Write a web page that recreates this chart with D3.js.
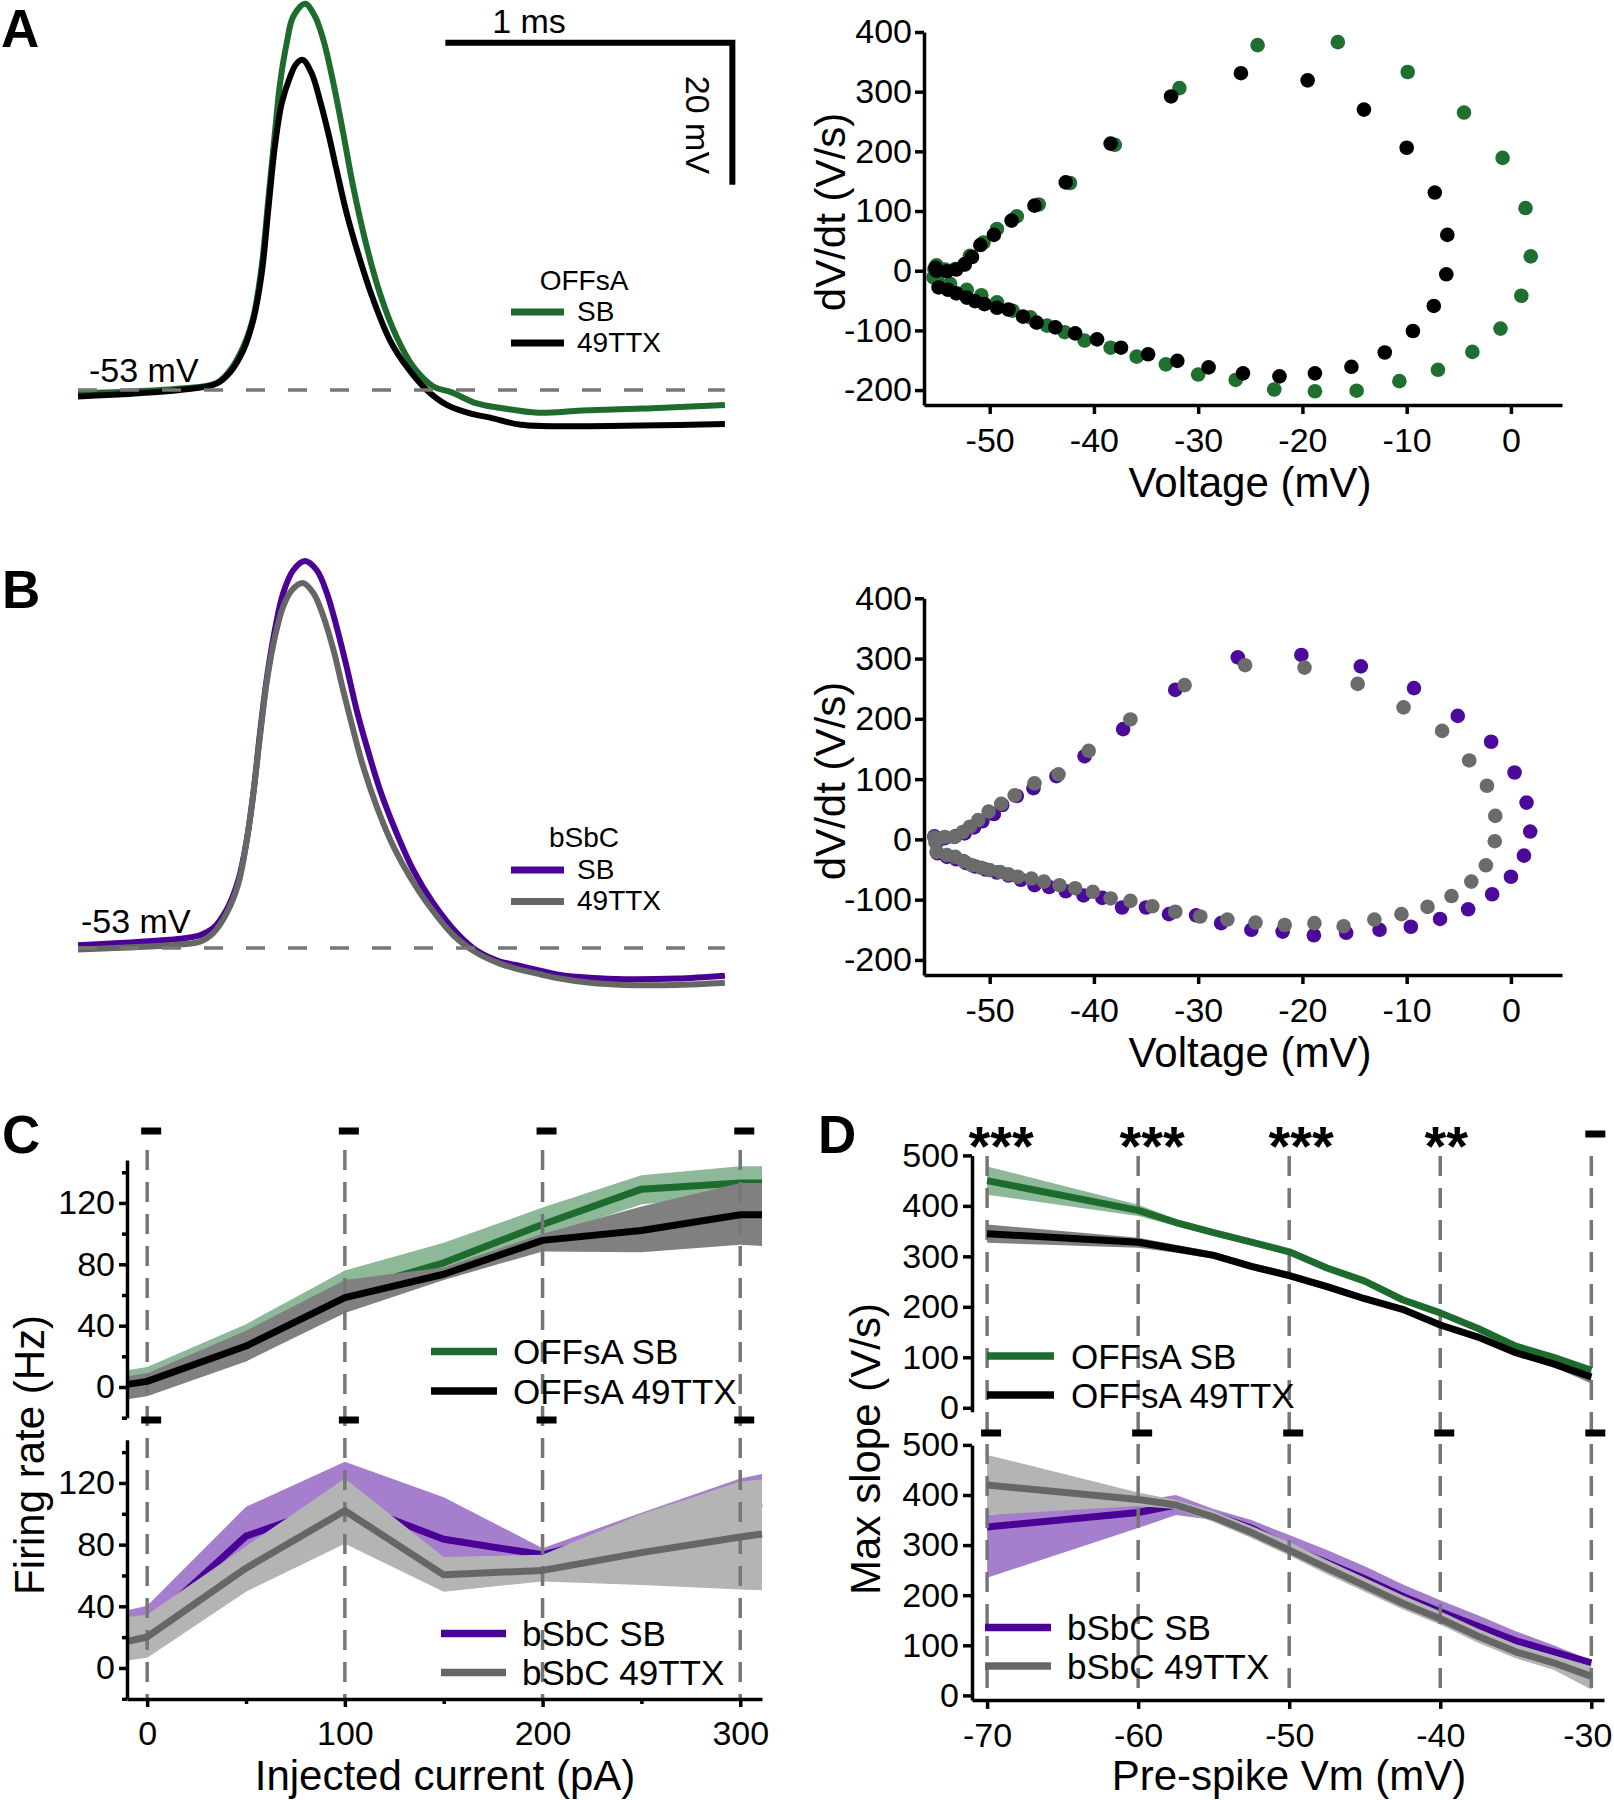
<!DOCTYPE html>
<html>
<head>
<meta charset="utf-8">
<script src="https://cdn.jsdelivr.net/npm/d3@7/dist/d3.min.js"></script>
<style>html,body{margin:0;padding:0;background:#fff;}</style>
</head>
<body>
<script>
// ================= DATA =================
// Panel A/B: averaged action potentials, [time (ms), Vm (mV)]
const apOFFsA_SB = [[0.00,-53.5],[0.355,-52.8],[0.483,-52.0],[0.530,-50.2],[0.576,-46.9],[0.611,-42.7],[0.640,-35.6],[0.663,-26.2],[0.686,-16.8],[0.704,-9.8],[0.727,-4.2],[0.750,-0.4],[0.791,1.4],[0.826,-0.4],[0.855,-3.7],[0.890,-9.8],[0.924,-16.8],[0.959,-24.4],[1.006,-32.8],[1.052,-39.4],[1.110,-45.5],[1.168,-49.7],[1.238,-52.5],[1.30,-53.3],[1.39,-54.9],[1.483,-55.6],[1.603,-56.2],[1.756,-55.9],[1.983,-55.6],[2.254,-55.1]];
const apOFFsA_49TTX = [[0.00,-53.9],[0.355,-53.0],[0.483,-52.1],[0.530,-50.5],[0.576,-47.4],[0.611,-43.1],[0.640,-36.6],[0.663,-27.6],[0.686,-18.7],[0.710,-12.6],[0.739,-8.9],[0.760,-7.1],[0.783,-6.5],[0.814,-8.4],[0.843,-12.2],[0.872,-16.8],[0.901,-22.0],[0.936,-28.1],[0.983,-34.7],[1.029,-40.3],[1.087,-46.0],[1.145,-49.7],[1.215,-53.0],[1.285,-55.1],[1.366,-56.3],[1.436,-56.9],[1.544,-57.9],[1.756,-58.1],[2.254,-57.8]];
const apBSbC_SB = [[0.00,-52.6],[0.355,-51.7],[0.425,-51.2],[0.471,-50.2],[0.518,-47.6],[0.559,-43.4],[0.588,-37.8],[0.611,-31.2],[0.634,-22.8],[0.657,-15.3],[0.686,-8.2],[0.715,-3.0],[0.750,0.2],[0.791,1.5],[0.832,0.2],[0.867,-3.0],[0.901,-7.75],[0.936,-13.4],[0.971,-19.5],[1.006,-24.6],[1.052,-30.7],[1.110,-36.8],[1.168,-42.0],[1.238,-46.7],[1.320,-50.9],[1.39,-53.4],[1.470,-54.9],[1.526,-55.4],[1.610,-56.2],[1.679,-56.8],[1.784,-57.2],[1.906,-57.4],[2.087,-57.3],[2.254,-56.9]];
const apBSbC_49TTX = [[0.00,-53.2],[0.355,-52.5],[0.425,-52.1],[0.471,-50.9],[0.518,-48.1],[0.559,-43.9],[0.588,-37.8],[0.611,-31.2],[0.634,-23.2],[0.657,-15.7],[0.686,-9.2],[0.715,-4.9],[0.745,-2.6],[0.783,-1.6],[0.820,-3.0],[0.855,-6.3],[0.890,-11.0],[0.924,-16.7],[0.959,-22.3],[0.994,-27.5],[1.041,-33.1],[1.099,-38.7],[1.157,-43.0],[1.226,-47.2],[1.308,-51.2],[1.39,-53.7],[1.470,-55.2],[1.526,-55.9],[1.610,-56.7],[1.679,-57.3],[1.784,-57.9],[1.906,-58.2],[2.087,-58.2],[2.254,-57.9]];
const restingLabel = "-53 mV";
const restingVm = -53;

// Phase plots: [Vm (mV), dV/dt (V/s)]
const phaseOFFsA_SB = [[-55.4,-11],[-55.3,3],[-55.1,9],[-54.3,2],[-53.3,3],[-52.4,10],[-51.9,25],[-50.6,47],[-49.3,70],[-47.4,91],[-45.3,111],[-42.3,147],[-38.0,211],[-31.8,306],[-24.3,378],[-16.6,383],[-9.9,333],[-4.5,265],[-0.8,189],[1.4,105],[1.9,24],[1.0,-42],[-1.0,-97],[-3.7,-136],[-7.0,-166],[-10.7,-185],[-14.8,-201],[-18.8,-202],[-22.7,-199],[-26.4,-183],[-30.0,-174],[-33.1,-157],[-35.9,-144],[-38.4,-129],[-40.9,-117],[-42.8,-103],[-44.5,-92],[-46.1,-78],[-47.8,-67],[-49.3,-53],[-50.8,-41],[-52.2,-32],[-53.8,-22],[-55.0,-16]];
const phaseOFFsA_49TTX = [[-55.2,5],[-55.1,0],[-54.1,-1],[-53.2,2],[-52.4,11],[-51.7,23],[-50.9,43],[-49.6,60],[-47.9,84],[-45.7,109],[-42.7,148],[-38.4,213],[-32.6,292],[-25.9,331],[-19.5,319],[-14.1,270],[-10.0,206],[-7.3,131],[-6.1,60],[-6.2,-6],[-7.4,-59],[-9.4,-101],[-12.1,-137],[-15.3,-161],[-18.8,-172],[-22.2,-177],[-25.7,-172],[-29.0,-162],[-32.0,-151],[-34.8,-140],[-37.4,-129],[-39.7,-115],[-41.8,-105],[-43.7,-95],[-45.5,-87],[-46.8,-77],[-48.2,-65],[-49.3,-62],[-50.5,-56],[-51.4,-51],[-52.2,-45],[-53.2,-38],[-54.0,-32],[-54.9,-28]];
const phaseBSbC_SB = [[-55.3,5],[-55.0,-3],[-54.3,2],[-53.3,5],[-52.4,10],[-51.5,20],[-50.7,30],[-49.6,42],[-48.8,57],[-47.4,72],[-45.8,85],[-43.6,105],[-40.9,138],[-37.2,183],[-32.2,248],[-26.2,302],[-20.1,306],[-14.4,287],[-9.3,251],[-5.1,205],[-1.9,162],[0.35,111],[1.5,61],[1.85,13],[1.25,-27],[0.0,-62],[-1.8,-91],[-4.1,-116],[-6.8,-132],[-9.6,-145],[-12.6,-150],[-15.8,-155],[-18.9,-159],[-21.9,-153],[-24.9,-150],[-27.8,-139],[-30.2,-126],[-32.8,-124],[-35.0,-113],[-37.3,-113],[-39.2,-97],[-41.0,-93],[-42.7,-86],[-44.3,-79],[-45.7,-76],[-47.0,-67],[-48.2,-60],[-49.3,-55],[-50.4,-50],[-51.4,-45],[-52.3,-39],[-53.2,-33],[-54.1,-29],[-55.0,-23]];
const phaseBSbC_49TTX = [[-55.3,3],[-55.2,-5],[-54.3,4],[-53.4,4],[-52.6,12],[-51.9,21],[-51.1,32],[-50.1,46],[-48.9,59],[-47.6,73],[-45.7,93],[-43.4,108],[-40.5,147],[-36.5,199],[-31.3,256],[-25.5,289],[-19.8,285],[-14.7,258],[-10.3,219],[-6.6,180],[-4.0,131],[-2.3,89],[-1.5,39],[-1.55,-3],[-2.4,-43],[-3.8,-70],[-5.7,-94],[-8.0,-112],[-10.5,-124],[-13.1,-133],[-16.05,-144],[-18.85,-139],[-21.7,-142],[-24.5,-138],[-27.2,-133],[-29.8,-128],[-32.2,-120],[-34.4,-111],[-36.5,-102],[-38.4,-98],[-40.1,-87],[-41.8,-81],[-43.3,-76],[-44.8,-70],[-46.0,-65],[-47.3,-62],[-48.2,-58],[-49.0,-54],[-50.0,-51],[-50.8,-47],[-51.7,-43],[-52.5,-36],[-53.3,-29],[-54.1,-26],[-55.1,-21]];
const phaseTicksX = [-50,-40,-30,-20,-10,0];
const phaseTicksY = [-200,-100,0,100,200,300,400];

// Panel C: firing rate (Hz) vs injected current (pA)
const currentSteps = [-10,0,50,100,150,200,250,300,311];
const frOFFsA_SB = [2,4,28,62,81,106,129,133,133];
const frOFFsA_SB_hi = [11,13,41,76,94,117,138,144,144];
const frOFFsA_SB_lo = [-2,-3,20,55,72,98,119,126,126];
const frOFFsA_TTX = [1.7,3.7,26.7,58.3,73.5,95.6,102,112.3,112.3];
const frOFFsA_TTX_hi = [7,9,36.7,69.8,78,100,117.7,133,133];
const frOFFsA_TTX_lo = [-8,-6,16.7,48.2,69.8,88.4,87.9,92.7,92];
const frBSbC_SB = [25,27,85.5,108,83.5,73.4,90,105,107];
const frBSbC_SB_hi = [37.4,40.3,104.5,133.8,110.8,77.7,100.7,122.9,125.8];
const frBSbC_SB_lo = [20,22,65,85,72,70,70,85,87];
const frBSbC_TTX = [17.3,20.1,64.7,102,60.4,63.3,74.8,84.9,86.9];
const frBSbC_TTX_hi = [33,34.5,79,122.9,72,73.4,99.9,120.9,122.3];
const frBSbC_TTX_lo = [4.9,6.6,49.5,80.6,49.5,56.1,53.8,50.9,50.4];
const cTicksX = [0,100,200,300];
const cMinorX = [50,150,250];
const cTicksY = [0,40,80,120];
const cMinorY = [-20,20,60,100,140];
const sigC_top = ["–","–","–","–"];
const sigC_bot = ["–","–","–","–"];

// Panel D: max slope (V/s) vs pre-spike Vm (mV)
const preSpikeVm = [-70,-60,-57.5,-55,-52.5,-50,-47.5,-45,-42.5,-40,-37.5,-35,-32.5,-30];
const msOFFsA_SB = [450,391,367,347,328,309,277,251,214,188,157,122,100,74];
const msOFFsA_SB_hi = [478,402,374,353,334,314,283,257,220,193,162,127,105,79];
const msOFFsA_SB_lo = [422,380,360,341,322,303,271,245,208,183,152,117,95,69];
const msOFFsA_TTX = [345,328,315,302,280,262,240,216,195,164,140,109,87,61];
const msOFFsA_TTX_hi = [363,337,323,309,287,269,247,223,201,170,146,115,93,72];
const msOFFsA_TTX_lo = [327,317,307,295,273,255,233,209,189,158,134,103,81,48];
const msBSbC_SB = [336,365,380,360,334,296,265,233,198,167,138,109,87,65];
const msBSbC_SB_hi = [360,388,400,372,350,320,290,258,222,190,160,128,100,70];
const msBSbC_SB_lo = [235,334,360,350,322,284,252,220,186,156,128,100,78,58];
const msBSbC_TTX = [420,391,380,356,325,290,254,219,184,153,118,87,65,38];
const msBSbC_TTX_hi = [480,405,390,368,338,306,270,235,200,168,133,102,80,58];
const msBSbC_TTX_lo = [360,378,372,346,314,279,242,207,172,141,105,74,51,12];
const dTicksX = [-70,-60,-50,-40,-30];
const dTicksY = [0,100,200,300,400,500];
const sigD_top = ["***","***","***","**","–"];
const sigD_bot = ["–","–","–","–","–"];

// ================= STYLE =================
const F = "'Liberation Sans', Arial, Helvetica, sans-serif";
const C = {
  green:"#1e6b2e", greenDot:"#1f6f31", greenBand:"#8db999",
  black:"#000000", darkBand:"#808080",
  purple:"#4b0096", purpleDot:"#4c0a9c", purpleBand:"#a57fcd",
  grey:"#666666", greyDot:"#6b6b6b", greyBand:"#b4b4b4",
  dash:"#767676"
};
const TICK_FS = 34, TITLE_FS = 42, LEG_FS = 35;
const fmt = d => String(d);   // plain hyphen-minus like the original

const svg = d3.select("body").append("svg").attr("width",1614).attr("height",1800)
  .attr("font-family",F);

function text(x,y,s,size,opt={}){
  const t = svg.append("text").attr("x",x).attr("y",y).attr("font-size",size)
    .attr("font-family",F).attr("text-anchor",opt.anchor||"start")
    .attr("font-weight",opt.weight||"normal").attr("fill","#000").text(s);
  if(opt.rot) t.attr("transform",`rotate(${opt.rot},${x},${y})`);
  return t;
}
function styleAxis(g, fs){
  g.attr("font-family",F);
  g.selectAll("path.domain").attr("stroke","#000").attr("stroke-width",3.5);
  g.selectAll(".tick line").attr("stroke","#000").attr("stroke-width",3.5);
  g.selectAll(".tick text").attr("font-family",F).attr("font-size",fs).attr("fill","#000");
}
function hline(x1,x2,y,color,w){
  svg.append("line").attr("x1",x1).attr("x2",x2).attr("y1",y).attr("y2",y)
    .attr("stroke",color).attr("stroke-width",w);
}

// ================= PANELS A/B: traces =================
const xT = d3.scaleLinear().domain([0,1]).range([78,365]);           // 1 ms = 287 px
const yA = d3.scaleLinear().domain([-53,-33]).range([390,248]);      // 20 mV = 142 px
const yB = d3.scaleLinear().domain([-53,-33]).range([948,806]);

function trace(data,y,color){
  svg.append("path").datum(data)
    .attr("d", d3.line().x(d=>xT(d[0])).y(d=>y(d[1])).curve(d3.curveCatmullRom.alpha(0.5)))
    .attr("fill","none").attr("stroke",color).attr("stroke-width",6)
    .attr("stroke-linejoin","round");
}
function baseline(y){
  svg.append("line").attr("x1",xT(0)).attr("x2",xT(2.254))
    .attr("y1",y(restingVm)).attr("y2",y(restingVm))
    .attr("stroke",C.dash).attr("stroke-width",3.3).attr("stroke-dasharray","19,23");
}
trace(apOFFsA_SB,yA,C.green);
trace(apOFFsA_49TTX,yA,C.black);
baseline(yA);
trace(apBSbC_SB,yB,C.purple);
trace(apBSbC_49TTX,yB,C.grey);
baseline(yB);

text(89,382,restingLabel,34);
text(81,933,restingLabel,34);

// scale bar (1 ms, 20 mV)
svg.append("path")
  .attr("d",`M${xT(1.28)},${yA(-4.1)}H${xT(2.28)}V${yA(-24.1)}`)
  .attr("fill","none").attr("stroke","#000").attr("stroke-width",6).attr("stroke-linejoin","miter");
text(529,33,"1 ms",34,{anchor:"middle"});
text(686,125,"20 mV",34,{anchor:"middle",rot:90});

// legends A/B
text(584,290,"OFFsA",28,{anchor:"middle"});
hline(511,564,312,C.green,7); text(577,321,"SB",28);
hline(511,564,343,C.black,7); text(577,352,"49TTX",28);
text(584,847,"bSbC",28,{anchor:"middle"});
hline(511,564,870,C.purple,7); text(577,879,"SB",28);
hline(511,564,901.5,C.grey,7); text(577,910,"49TTX",28);

// panel letters
text(1,47,"A",53,{weight:"bold"});
text(2,608,"B",53,{weight:"bold"});
text(2,1153,"C",53,{weight:"bold"});
text(818,1153,"D",53,{weight:"bold"});

// ================= PANELS A/B: phase plots =================
const xV = d3.scaleLinear().domain([-56.3,4.9]).range([924,1562]);
function phasePlot(yTop, yBot, s1, c1, s2, c2){
  const y = d3.scaleLinear().domain([-225,400]).range([yBot,yTop]);
  const gy = svg.append("g").attr("transform","translate(924,0)")
    .call(d3.axisLeft(y).tickValues(phaseTicksY).tickFormat(fmt).tickSize(9).tickSizeOuter(0).tickPadding(3));
  styleAxis(gy,TICK_FS);
  const gx = svg.append("g").attr("transform",`translate(0,${yBot})`)
    .call(d3.axisBottom(xV).tickValues(phaseTicksX).tickFormat(fmt).tickSize(9).tickSizeOuter(0).tickPadding(14));
  styleAxis(gx,TICK_FS);
  [[s1,c1],[s2,c2]].forEach(([s,c])=>{
    svg.append("g").selectAll("circle").data(s).join("circle")
      .attr("cx",d=>xV(d[0])).attr("cy",d=>y(d[1])).attr("r",7.3).attr("fill",c);
  });
  return y;
}
const yPA = phasePlot(32,405,phaseOFFsA_SB,C.greenDot,phaseOFFsA_49TTX,C.black);
const yPB = phasePlot(598.3,975,phaseBSbC_SB,C.purpleDot,phaseBSbC_49TTX,C.greyDot);
text(845,212,"dV/dt (V/s)",TITLE_FS,{anchor:"middle",rot:-90});
text(845,781,"dV/dt (V/s)",TITLE_FS,{anchor:"middle",rot:-90});
text(1250,497,"Voltage (mV)",TITLE_FS,{anchor:"middle"});
text(1250,1067,"Voltage (mV)",TITLE_FS,{anchor:"middle"});

// ================= shared helpers for C/D =================
function band(xs, lo, hi, x, y, color){
  svg.append("path").datum(xs.map((v,i)=>[v,lo[i],hi[i]]))
    .attr("d", d3.area().x(d=>x(d[0])).y0(d=>y(d[1])).y1(d=>y(d[2])))
    .attr("fill",color).attr("stroke","none");
}
function mline(xs, m, x, y, color, w){
  svg.append("path").datum(xs.map((v,i)=>[v,m[i]]))
    .attr("d", d3.line().x(d=>x(d[0])).y(d=>y(d[1])))
    .attr("fill","none").attr("stroke",color).attr("stroke-width",w||7).attr("stroke-linejoin","round");
}
function vdash(xpos, y1, y2){
  svg.append("line").attr("x1",xpos).attr("x2",xpos).attr("y1",y1).attr("y2",y2)
    .attr("stroke",C.dash).attr("stroke-width",3.5).attr("stroke-dasharray","20,12");
}
function sigMark(s, xpos, ycenter, starOffset){
  if(s==="–"){
    svg.append("rect").attr("x",xpos+4-10).attr("y",ycenter-3.5).attr("width",20).attr("height",7).attr("fill","#000");
  } else {
    text(xpos+starOffset, ycenter+31, s, 56, {anchor:"middle",weight:"bold"});
  }
}
function legendRow(x1,x2,y,color,label,tx){
  hline(x1,x2,y,color,7.5);
  text(tx,y+12.5,label,LEG_FS);
}

// ================= PANEL C =================
const xC = d3.scaleLinear().domain([-10.2,311]).range([127,762]);
const yC1 = d3.scaleLinear().domain([-20,148]).range([1417.7,1160]);
const yC2 = d3.scaleLinear().domain([-20,148]).range([1698.8,1439.8]);

band(currentSteps,frOFFsA_SB_lo,frOFFsA_SB_hi,xC,yC1,C.greenBand);
mline(currentSteps,frOFFsA_SB,xC,yC1,C.green);
band(currentSteps,frOFFsA_TTX_lo,frOFFsA_TTX_hi,xC,yC1,C.darkBand);
band(currentSteps,frBSbC_SB_lo,frBSbC_SB_hi,xC,yC2,C.purpleBand);
mline(currentSteps,frBSbC_SB,xC,yC2,C.purple);
band(currentSteps,frBSbC_TTX_lo,frBSbC_TTX_hi,xC,yC2,C.greyBand);
cTicksX.forEach(v=>vdash(xC(v),1150,1699));
mline(currentSteps,frOFFsA_TTX,xC,yC1,C.black);
mline(currentSteps,frBSbC_TTX,xC,yC2,C.grey);

[yC1,yC2].forEach(y=>{
  const g = svg.append("g").attr("transform","translate(127,0)")
    .call(d3.axisLeft(y).tickValues(cTicksY).tickFormat(fmt).tickSize(8).tickSizeOuter(0).tickPadding(4));
  styleAxis(g,TICK_FS);
  const gm = svg.append("g").attr("transform","translate(127,0)")
    .call(d3.axisLeft(y).tickValues(cMinorY).tickSize(5).tickFormat(""));
  styleAxis(gm,TICK_FS);
  gm.select("path.domain").remove();
});
{
  const g = svg.append("g").attr("transform","translate(0,1699)")
    .call(d3.axisBottom(xC).tickValues(cTicksX).tickFormat(fmt).tickSize(8).tickSizeOuter(0).tickPadding(14));
  styleAxis(g,TICK_FS);
  const gm = svg.append("g").attr("transform","translate(0,1699)")
    .call(d3.axisBottom(xC).tickValues(cMinorX).tickSize(5).tickFormat(""));
  styleAxis(gm,TICK_FS); gm.select("path.domain").remove();
}
cTicksX.forEach((v,i)=>{ sigMark(sigC_top[i],xC(v),1131,0); sigMark(sigC_bot[i],xC(v),1420,0); });

legendRow(431,497,1351.5,C.green,"OFFsA SB",513);
legendRow(431,497,1391,C.black,"OFFsA 49TTX",513);
legendRow(441,506,1633.5,C.purple,"bSbC SB",522);
legendRow(441,506,1672.5,C.grey,"bSbC 49TTX",522);

text(44,1455,"Firing rate (Hz)",TITLE_FS,{anchor:"middle",rot:-90});
text(445,1790,"Injected current (pA)",TITLE_FS,{anchor:"middle"});

// ================= PANEL D =================
const xD = d3.scaleLinear().domain([-71,-29.16]).range([972,1604]);
const yD1 = d3.scaleLinear().domain([-8,500]).range([1411.8,1155.4]);
const yD2 = d3.scaleLinear().domain([-9,500]).range([1699.9,1444.9]);

band(preSpikeVm,msOFFsA_SB_lo,msOFFsA_SB_hi,xD,yD1,C.greenBand);
band(preSpikeVm,msOFFsA_TTX_lo,msOFFsA_TTX_hi,xD,yD1,C.darkBand);
band(preSpikeVm,msBSbC_SB_lo,msBSbC_SB_hi,xD,yD2,C.purpleBand);
mline(preSpikeVm,msBSbC_SB,xD,yD2,C.purple);
band(preSpikeVm,msBSbC_TTX_lo,msBSbC_TTX_hi,xD,yD2,C.greyBand);
dTicksX.forEach(v=>vdash(xD(v),1156,1700));
mline(preSpikeVm,msOFFsA_SB,xD,yD1,C.green);
mline(preSpikeVm,msOFFsA_TTX,xD,yD1,C.black);
mline(preSpikeVm,msBSbC_TTX,xD,yD2,C.grey);

[yD1,yD2].forEach(y=>{
  const g = svg.append("g").attr("transform","translate(972,0)")
    .call(d3.axisLeft(y).tickValues(dTicksY).tickFormat(fmt).tickSize(9).tickSizeOuter(0).tickPadding(4));
  styleAxis(g,TICK_FS);
});
{
  const g = svg.append("g").attr("transform","translate(0,1699.9)")
    .call(d3.axisBottom(xD).tickValues(dTicksX).tickFormat(fmt).tickSize(9).tickSizeOuter(0).tickPadding(14));
  styleAxis(g,TICK_FS);
  // keep the right-most label inside the page
  g.selectAll(".tick text").filter(d=>d===dTicksX[dTicksX.length-1]).attr("dx",-4);
}
const starOffsets = [14,14,12,6,0];
dTicksX.forEach((v,i)=>{ sigMark(sigD_top[i],xD(v),1134,starOffsets[i]); sigMark(sigD_bot[i],xD(v),1433,0); });

legendRow(987,1054,1356,C.green,"OFFsA SB",1071);
legendRow(987,1054,1395,C.black,"OFFsA 49TTX",1071);
legendRow(985,1051,1627.5,C.purple,"bSbC SB",1067);
legendRow(985,1051,1666,C.grey,"bSbC 49TTX",1067);

text(880,1449,"Max slope (V/s)",TITLE_FS,{anchor:"middle",rot:-90});
text(1289,1790,"Pre-spike Vm (mV)",TITLE_FS,{anchor:"middle"});
</script>
</body>
</html>
